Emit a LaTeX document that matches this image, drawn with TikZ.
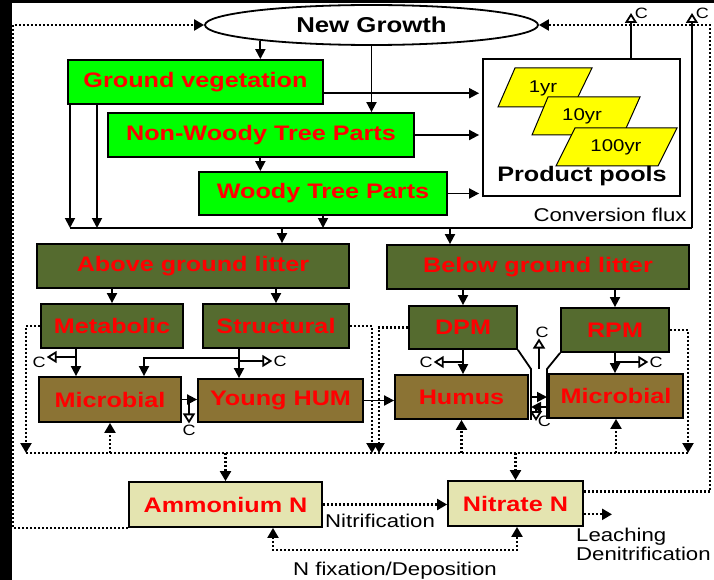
\documentclass[tikz,border=0pt]{standalone}
\usepackage{fontspec}
\setmainfont{Liberation Sans}[FakeStretch=1.2]
\usetikzlibrary{arrows.meta,shapes.geometric}

\definecolor{leaf}{RGB}{0,255,0}
\definecolor{litter}{RGB}{85,107,47}
\definecolor{soil}{RGB}{139,115,52}
\definecolor{mineral}{RGB}{228,228,176}
\definecolor{pool}{RGB}{255,255,0}

\begin{document}
\begin{tikzpicture}[x=1pt,y=-1pt,
	box/.style={draw=black,line width=1.8pt,inner sep=0pt,minimum height=44pt,font=\fontsize{21}{21}\selectfont\bfseries,text=red},
	plant/.style={box,fill=leaf},
	litterbox/.style={box,fill=litter},
	soilbox/.style={box,fill=soil},
	nbox/.style={box,fill=mineral},
	flow/.style={line width=1.8pt,-{Triangle[length=10pt,width=10pt]}},
	co/.style={line width=1.8pt,-{Triangle[open,length=10pt,width=12pt,fill=white]}},
	dots/.style={line width=2.2pt,dash pattern=on 2pt off 2pt},
	dflow/.style={dots,-{Triangle[length=10pt,width=11pt]}},
	dboth/.style={dots,{Triangle[length=10pt,width=11pt]}-{Triangle[length=10pt,width=11pt]}},
	clab/.style={inner sep=1pt,font=\fontsize{15}{15}\selectfont},
	small/.style={inner sep=0pt,font=\fontsize{18.5}{19}\selectfont}]
	\useasboundingbox (0,0) rectangle (714,580);
	\fill[white] (0,0) rectangle (714,580);
	\fill[black] (0,0) rectangle (12,580);
	\fill[black] (0,0) rectangle (714,3);

	\node[ellipse,draw=black,line width=1.8pt,fill=white,minimum width=333pt,minimum height=40pt,inner sep=0pt,font=\fontsize{21.5}{21}\selectfont\bfseries] (grow) at (371.5,25) {New Growth};
	\node[plant,minimum width=255pt] (gv) at (195.5,82) {Ground vegetation};
	\node[plant,minimum width=306pt] (nwt) at (261,135) {Non-Woody Tree Parts};
	\node[plant,minimum width=248pt,minimum height=43pt] (wtp) at (323,193.5) {Woody Tree Parts};
	\node[draw=black,line width=1.8pt,minimum width=197pt,minimum height=137pt,inner sep=0pt] (prod) at (581.5,127.5) {};

	\filldraw[fill=pool,line width=1pt] (515,68) -- (592,68) -- (573,107) -- (498,107) -- cycle;
	\filldraw[fill=pool,line width=1pt] (548,97) -- (640,97) -- (623,135) -- (532,135) -- cycle;
	\filldraw[fill=pool,line width=1pt] (575,128) -- (677,128) -- (658,166) -- (556,166) -- cycle;
	\node[font=\fontsize{17}{17}\selectfont] (y1) at (543,88) {1yr};
	\node[font=\fontsize{17}{17}\selectfont] (y10) at (582,116) {10yr};
	\node[font=\fontsize{17}{17}\selectfont] (y100) at (616,147) {100yr};
	\node[inner sep=0pt,font=\fontsize{21}{21}\selectfont\bfseries] (pp) at (582,176) {Product pools};
	\node[small] (convtxt) at (610,215) {Conversion flux};

	\node[litterbox,minimum width=312pt] (agl) at (193,266) {Above ground litter};
	\node[litterbox,minimum width=302pt] (bgl) at (538,267) {Below ground litter};
	\node[litterbox,minimum width=142pt] (met) at (112,326) {Metabolic};
	\node[litterbox,minimum width=146pt] (str) at (276,326) {Structural};
	\node[litterbox,minimum width=108pt,minimum height=43pt] (dpm) at (463,327.5) {DPM};
	\node[litterbox,minimum width=108pt] (rpm) at (615,330) {RPM};
	\node[soilbox,minimum width=142pt,minimum height=45pt] (micA) at (110,399.5) {Microbial};
	\node[soilbox,minimum width=165pt,minimum height=43pt] (yhum) at (280.5,400.5) {Young HUM};
	\node[soilbox,minimum width=133pt] (hum) at (461.5,397) {Humus};
	\node[soilbox,minimum width=134pt] (micB) at (616,396) {Microbial};
	\node[nbox,minimum width=193pt,minimum height=45pt] (amm) at (225.5,504.5) {Ammonium N};
	\node[nbox,minimum width=135pt,minimum height=45pt] (nit) at (515.5,503.5) {Nitrate N};

	\coordinate (fluxl) at (70,228);
	\coordinate (fluxg) at (97,228);
	\coordinate (fluxa) at (282,228);
	\coordinate (fluxb) at (450,228);
	\coordinate (fluxr) at (692,228);
	\coordinate (cprod) at (631,13);
	\coordinate (cflux) at (692,13);
	\coordinate (metc) at (76,357);
	\coordinate (strc) at (239,358);
	\coordinate (strm) at (144,358);
	\coordinate (jl) at (531,369);
	\coordinate (jr) at (547,369);
	\coordinate (jm) at (539,369);
	\coordinate (jb) at (531,407);
	\coordinate (jc) at (536,409);
	\coordinate (jct) at (536,421);
	\coordinate (mleft) at (26,453);
	\coordinate (nright) at (688,453);
	\coordinate (sdown) at (372,453);
	\coordinate (ddown) at (379,453);
	\coordinate (fixl) at (273,550);
	\coordinate (fixr) at (517,550);
	\coordinate (leach) at (612,514);
	\coordinate (outl) at (13,25);
	\coordinate (outr) at (710,25);

	\node[clab] (cm) at (39,362) {C};
	\node[clab] (cs) at (280,361) {C};
	\node[clab] (cmy) at (189,430) {C};
	\node[clab] (cd) at (426,362) {C};
	\node[clab] (cr) at (656,362) {C};
	\node[clab] (cj) at (542,332) {C};

	\draw[flow] (grow.188) -- (grow.188 |- gv.north);
	\draw[flow] (grow.south) -- (grow.south |- nwt.north);
	\draw[flow] (grow.188 |- nwt.south) -- (grow.188 |- wtp.north);
	\draw[flow,shorten >=3pt] (gv.-5) -- (gv.-5 -| prod.west);
	\draw[flow,shorten >=3pt] (nwt.east) -- (nwt.east -| prod.west);
	\draw[flow,shorten >=3pt] (wtp.east) -- (wtp.east -| prod.west);
	\draw[co] (prod.north -| cprod) -- (cprod) node[clab,right,xshift=2pt] {C};

	\draw[flow] (gv.south -| fluxl) -- (fluxl);
	\draw[flow] (gv.south -| fluxg) -- (fluxg);
	\draw[flow] (wtp.south) -- (wtp.south |- fluxl);
	\draw[line width=1.8pt] (fluxl) -- (fluxr);
	\draw[flow] (fluxa) -- (fluxa |- agl.north);
	\draw[flow] (fluxb) -- (fluxb |- bgl.north);
	\draw[co] (fluxr) -- (cflux) node[clab,right,xshift=2pt] {C};

	\draw[flow] (met.north |- agl.south) -- (met.north);
	\draw[flow] (str.north |- agl.south) -- (str.north);
	\draw[flow] (dpm.north |- bgl.south) -- (dpm.north);
	\draw[flow] (rpm.north |- bgl.south) -- (rpm.north);

	\draw[flow] (met.south -| metc) -- (metc |- micA.north);
	\draw[co] (metc) -- (metc -| cm.east);
	\draw[flow] (str.south -| strc) -- (strc |- yhum.north);
	\draw[flow] (strc) -- (strm) -- (strm |- micA.north);
	\draw[co] (strc |- cs) -- (cs.west);
	\draw[flow] (micA.east) -- (micA.east -| yhum.west);
	\draw[co] (micA.east -| cmy) -- (cmy.north);
	\draw[flow] (yhum.east) -- (yhum.east -| hum.west);
	\draw[flow] (dpm.south) -- (dpm.south |- hum.north);
	\draw[co] (dpm.south |- cd) -- (cd.east);
	\draw[flow] (rpm.south) -- (rpm.south |- micB.north);
	\draw[co] (rpm.south |- cr) -- (cr.west);

	\draw[line width=1.8pt] (dpm.south east) -- (jl) -- (jl |- hum.south);
	\draw[line width=1.8pt] (rpm.south west) -- (jr) -- (jr |- micB.south);
	\draw[co] (jm) -- (jm |- cj.south);
	\draw[flow] (jl |- hum.east) -- (jr |- hum.east);
	\draw[flow] (jb -| jr) -- (jb);
	\draw[co] (jc) -- (jct) node[clab,right] {C};

	\draw[dflow] (met.west) -- (met.west -| mleft) -- (mleft);
	\draw[dots] (mleft) -- (nright);
	\draw[dflow] (str.east) -- (str.east -| sdown) -- (sdown);
	\draw[dflow] (dpm.west) -- (dpm.west -| ddown) -- (ddown);
	\draw[dflow] (rpm.east) -- (rpm.east -| nright) -- (nright);
	\draw[dflow] (micA.south |- mleft) -- (micA.south);
	\draw[dflow] (hum.south |- mleft) -- (hum.south);
	\draw[dflow] (micB.south |- mleft) -- (micB.south);
	\draw[dflow] (amm.north |- mleft) -- (amm.north);
	\draw[dflow] (nit.north |- mleft) -- (nit.north);

	\draw[dflow] (amm.east) -- (amm.east -| nit.west) node[small,below=8pt,pos=0.46] {Nitrification};
	\draw[dboth] (fixl |- amm.south) -- (fixl) -- node[small,below=11pt] {N fixation/Deposition} (fixr) -- (fixr |- nit.south);
	\draw[dflow] (nit.-9) -- (nit.-9 -| leach);
	\node[small,anchor=north west,align=left] (leachtxt) at (576,528) {Leaching\\Denitrification};

	\draw[dflow] (amm.south west) -- (amm.south west -| outl) -- (outl) -- (grow.west);
	\draw[dflow] (nit.10) -- (nit.10 -| outr) -- (outr) -- (grow.east);
\end{tikzpicture}
\end{document}
